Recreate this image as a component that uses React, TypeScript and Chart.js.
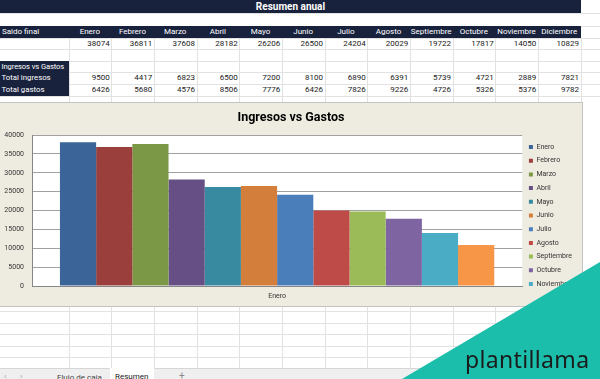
import React, { useEffect, useRef } from 'react';
import { Chart, registerables } from 'chart.js';

Chart.register(...registerables);

// ---- Data ----
const months = ['Enero', 'Febrero', 'Marzo', 'Abril', 'Mayo', 'Junio', 'Julio', 'Agosto', 'Septiembre', 'Octubre', 'Noviembre', 'Diciembre'];
const saldoFinal = [38074, 36811, 37608, 28182, 26206, 26500, 24204, 20029, 19722, 17817, 14050, 10829];
const totalIngresos = [9500, 4417, 6823, 6500, 7200, 8100, 6890, 6391, 5739, 4721, 2889, 7821];
const totalGastos = [6426, 5680, 4576, 8506, 7776, 6426, 7826, 9226, 4726, 5326, 5376, 9782];
const chartCategories = ['Enero'];
const yMin = 0;
const yMax = 40000;
const yStep = 5000;
const legendShownCount = 11; // Excel's legend box cuts off the last entry
const chartTitle = 'Ingresos vs Gastos';
const sheetTitle = 'Resumen anual';
const rowLabels = ['Saldo final', 'Ingresos vs Gastos', 'Total ingresos', 'Total gastos'];
const sheetTabs = ['Flujo de caja', 'Resumen'];

// ---- Styles ----
const barColors = ['#3b6499', '#9a3f3c', '#7b9847', '#654f84', '#378a9f', '#d47e3c', '#4a7ebb', '#be4b48', '#9bbb59', '#7f64a2', '#4bacc6', '#f79646'];
const NAVY = '#19223d';
const GRID = '#e2e2e2';
const FONT = 'Roboto, "Liberation Sans", sans-serif';
const COL_A = 68.5;
const COL_W = 42.67;
const topRows = [13, 25.5, 37.5, 49, 60.5, 72, 84, 95.5];
const bottomRows = [311, 322.5, 334, 345.5, 357];

const plotBackground = {
  id: 'plotBackground',
  beforeDraw(chart: any) {
    const { ctx, chartArea } = chart;
    ctx.save();
    ctx.fillStyle = '#ffffff';
    ctx.fillRect(chartArea.left, chartArea.top, chartArea.right - chartArea.left, chartArea.bottom - chartArea.top);
    ctx.restore();
  },
};

function abs(left: number, top: number, width: number, height: number, extra: any = {}): React.CSSProperties {
  return { position: 'absolute', left, top, width, height, ...extra };
}

export default function App() {
  const ref = useRef<HTMLCanvasElement>(null);

  useEffect(() => {
    if (!ref.current) return;
    const chart = new Chart(ref.current, {
      type: 'bar',
      data: {
        labels: chartCategories,
        datasets: months.map((m, i) => ({
          label: m,
          data: [saldoFinal[i]],
          backgroundColor: barColors[i],
          borderWidth: 0,
          categoryPercentage: 0.886,
          barPercentage: 1,
        })),
      },
      options: {
        animation: false,
        responsive: false,
        devicePixelRatio: 1,
        layout: { padding: { left: 0, right: 0, top: 0, bottom: 0 } },
        plugins: {
          title: {
            display: true,
            text: chartTitle,
            color: '#000',
            font: { family: FONT, size: 12.5, weight: 'bold' },
            padding: { top: 7.5, bottom: 9.5 },
          },
          legend: {
            display: true,
            position: 'right',
            align: 'start',
            title: { display: true, text: '', font: { size: 7 }, padding: { top: 25.4, bottom: 0 } },
            labels: {
              font: { family: FONT, size: 7 },
              color: '#333',
              boxWidth: 4,
              boxHeight: 4,
              padding: 6.7,
              filter: (item: any) => item.datasetIndex < legendShownCount,
            },
          },
          tooltip: { enabled: false },
        },
        scales: {
          x: {
            type: 'category',
            grid: { display: false, drawTicks: false },
            border: { display: true, color: '#868686' },
            ticks: { font: { family: FONT, size: 7 }, color: '#333', padding: 6 },
            afterFit: (s: any) => { s.height = 19; },
          },
          y: {
            min: yMin,
            max: yMax,
            grid: { color: '#a0a0a0', drawTicks: false },
            border: { display: true, color: '#868686' },
            ticks: {
              stepSize: yStep,
              font: { family: FONT, size: 7 },
              color: '#333',
              padding: 8,
              callback: (v: any) => String(v),
            },
            afterFit: (s: any) => { s.width = 32; },
          },
        },
      } as any,
      plugins: [plotBackground],
    });
    return () => chart.destroy();
  }, []);

  const colLeft = (i: number) => COL_A + i * COL_W;

  return (
    <div style={{ position: 'fixed', left: 0, top: 0, width: 600, height: 379, overflow: 'hidden', background: '#fff', fontFamily: FONT, fontSize: 8, color: '#1a1a1a' }}>
      {/* grid lines */}
      {topRows.map((y) => (
        <div key={'h' + y} style={abs(0, y, 600, 1, { background: GRID })} />
      ))}
      {bottomRows.map((y) => (
        <div key={'b' + y} style={abs(0, y, 600, 1, { background: GRID })} />
      ))}
      {Array.from({ length: 13 }, (_, i) => (
        <div key={'v' + i} style={abs(colLeft(i), 37.5, 1, 331, { background: GRID })} />
      ))}

      {/* title bar */}
      <div style={abs(0, 0, 581, 13, { background: NAVY, color: '#fff', fontWeight: 'bold', fontSize: 10, lineHeight: '13px', textAlign: 'center' })}>{sheetTitle}</div>

      {/* header row */}
      <div style={abs(0, 26, 581, 11.5, { background: NAVY })} />
      <div style={abs(2, 26, 66, 11.5, { color: '#fff', lineHeight: '11.5px' })}>{rowLabels[0]}</div>
      {months.map((m, i) => (
        <div key={'m' + i} style={abs(colLeft(i), 26, COL_W, 11.5, { color: '#fff', lineHeight: '11.5px', textAlign: 'center', whiteSpace: 'nowrap' })}>{m}</div>
      ))}
      {saldoFinal.map((v, i) => (
        <div key={'s' + i} style={abs(colLeft(i), 37.5, COL_W - 1.5, 11.5, { lineHeight: '12px', textAlign: 'right' })}>{v}</div>
      ))}

      {/* ingresos vs gastos block */}
      <div style={abs(0, 60.5, COL_A, 35, { background: NAVY })} />
      <div style={abs(1.5, 60.5, 67, 11.5, { color: '#fff', lineHeight: '11.5px', whiteSpace: 'nowrap', fontSize: 7.6, letterSpacing: -0.1 })}>{rowLabels[1]}</div>
      <div style={abs(1.5, 72, 67, 12, { color: '#fff', lineHeight: '12px', whiteSpace: 'nowrap', fontSize: 7.8 })}>{rowLabels[2]}</div>
      <div style={abs(1.5, 84, 67, 11.5, { color: '#fff', lineHeight: '11.5px', whiteSpace: 'nowrap', fontSize: 7.8 })}>{rowLabels[3]}</div>
      {totalIngresos.map((v, i) => (
        <div key={'i' + i} style={abs(colLeft(i), 72, COL_W - 1.5, 12, { lineHeight: '12px', textAlign: 'right' })}>{v}</div>
      ))}
      {totalGastos.map((v, i) => (
        <div key={'g' + i} style={abs(colLeft(i), 84, COL_W - 1.5, 11.5, { lineHeight: '11.5px', textAlign: 'right' })}>{v}</div>
      ))}

      {/* chart object */}
      <div style={abs(0, 102, 582, 203, { background: '#eeece1', borderTop: '1px solid #c3c3c3', borderRight: '1px solid #c3c3c3', borderBottom: '1px solid #c3c3c3' })}>
        <canvas ref={ref} width={582} height={202} style={{ display: 'block', width: 582, height: 202 }} />
      </div>

      {/* sheet tabs */}
      <div style={abs(0, 368, 600, 11, { background: '#efefef', borderTop: '1px solid #d6d6d6' })} />
      <div style={abs(4, 372, 10, 10, { color: '#999', fontSize: 8 })}>{'‹'}</div>
      <div style={abs(20, 372, 10, 10, { color: '#999', fontSize: 8 })}>{'›'}</div>
      <div style={abs(57, 373, 50, 10, { color: '#444', fontSize: 8, whiteSpace: 'nowrap' })}>{sheetTabs[0]}</div>
      <div style={abs(110, 368, 44, 11, { background: '#fff' })} />
      <div style={abs(115, 372, 40, 10, { color: '#222', fontSize: 8, whiteSpace: 'nowrap' })}>{sheetTabs[1]}</div>
      <div style={abs(179, 370, 10, 10, { color: '#888', fontSize: 10 })}>+</div>

      {/* watermark corner */}
      <div style={abs(0, 0, 600, 379, { background: '#1bbdab', clipPath: 'polygon(402px 379px, 600px 262px, 600px 379px)' })} />
      <div style={abs(465, 346, 135, 30, { fontFamily: '"Noto Sans", sans-serif', fontSize: 23, lineHeight: '26px', color: '#1b1b1b', letterSpacing: 0.35, whiteSpace: 'nowrap' })}>plantillama</div>
    </div>
  );
}
